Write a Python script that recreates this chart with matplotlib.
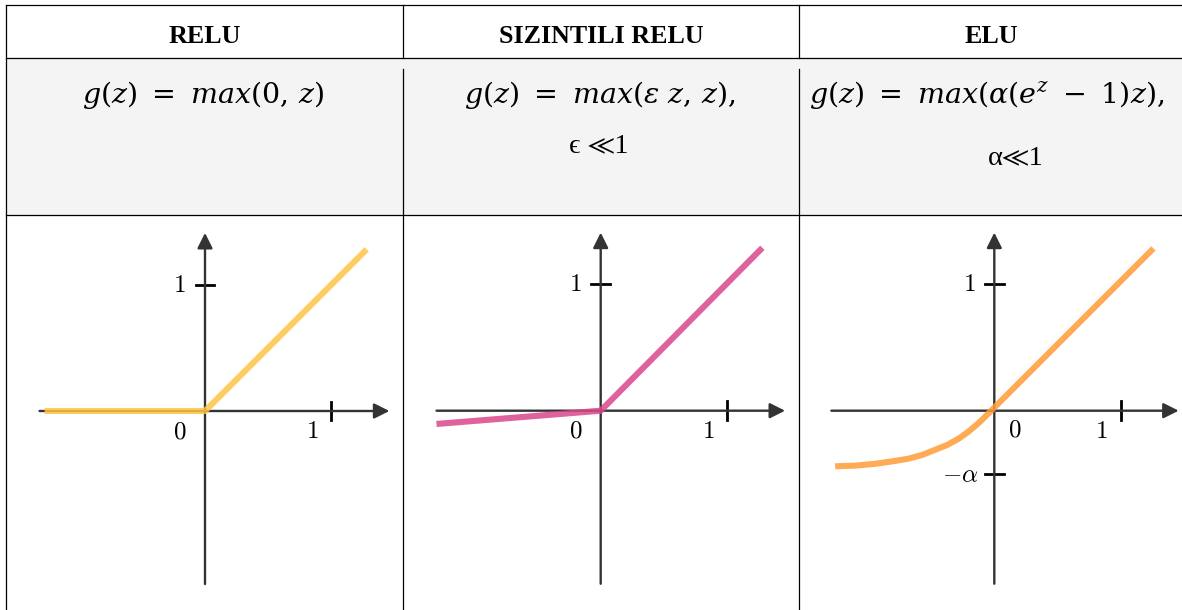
import matplotlib
matplotlib.use("Agg")
import matplotlib.pyplot as plt

# table text
headers = ["RELU", "SIZINTILI RELU", "ELU"]
formulas = [r"$g(z)\ =\ max(0,\,z)$",
            r"$g(z)\ =\ max(\epsilon\ z,\,z),$",
            r"$g(z)\ =\ max(\alpha(e^z\ -\ 1)z),$"]
conditions = ["", "ϵ ≪1", "α≪1"]

# curves
relu_z = [-1.27, 0.0, 1.28]
relu_g = [0.0, 0.0, 1.28]
leaky_z = [-1.30, 0.0, 1.28]
leaky_g = [-0.105, 0.0, 1.29]
elu_z = [-1.26, -1.10, -0.94, -0.80, -0.68, -0.57, -0.47, -0.37, -0.28, -0.21,
         -0.15, -0.10, -0.05, 0.0, 0.10, 1.26]
elu_g = [-0.44, -0.435, -0.42, -0.40, -0.38, -0.35, -0.31, -0.27, -0.22, -0.17,
         -0.12, -0.075, -0.025, 0.025, 0.125, 1.285]

curves = [(relu_z, relu_g, "#fec545"),
          (leaky_z, leaky_g, "#d9468a"),
          (elu_z, elu_g, "#ff9d38")]

W, H = 1182, 610
fig = plt.figure(figsize=(W / 100, H / 100), dpi=100)

# background axes in pixel coordinates for the table grid
bg = fig.add_axes([0, 0, 1, 1])
bg.set_xlim(0, W)
bg.set_ylim(H, 0)
bg.axis("off")

bg.add_patch(plt.Rectangle((6, 58), W - 6, 157, color="#f4f4f4", zorder=0))
for y in [5, 58, 215]:
    bg.plot([6, W], [y, y], color="black", lw=0.9)
bg.plot([6, 6], [5, H], color="black", lw=0.9)
for x in [403, 799]:
    bg.plot([x, x], [5, 58], color="black", lw=0.9)
    bg.plot([x, x], [69, H], color="black", lw=0.9)

col_x = [204.5, 601, 991]
for i in range(3):
    bg.text(col_x[i], 43, headers[i], ha="center", va="baseline",
            family="Liberation Serif", weight="bold", fontsize=18.7)

formula_x = [203, 600, 987]
for i in range(3):
    bg.text(formula_x[i], 95, formulas[i], ha="center", va="center",
            fontsize=20.5, math_fontfamily="dejavuserif")

cond_font = ["Liberation Serif", "STIXGeneral", "DejaVu Sans"]
bg.text(599, 152, conditions[1], ha="center", va="baseline",
        family=cond_font, fontsize=20.5)
bg.text(1016, 164, conditions[2], ha="center", va="baseline",
        family=cond_font, fontsize=20.5)

# plot panels
origins = [(205, 411), (600.7, 410.7), (994.3, 410.7)]
unit = 126.3
xmin, xmax, ymin, ymax = -1.5, 1.6, -1.5, 1.5
axis_col = "#333333"

for k, (ox, oy) in enumerate(origins):
    left = (ox + xmin * unit) / W
    bottom = 1 - (oy - ymin * unit) / H
    ax = fig.add_axes([left, bottom, (xmax - xmin) * unit / W,
                       (ymax - ymin) * unit / H])
    ax.set_xlim(xmin, xmax)
    ax.set_ylim(ymin, ymax)
    ax.axis("off")
    ax.patch.set_alpha(0)

    xl = [-1.31, -1.30, -1.29][k]
    ax.annotate("", xy=(1.46, 0), xytext=(xl, 0),
                arrowprops=dict(arrowstyle="-|>", color=axis_col, lw=1.7,
                                mutation_scale=23, shrinkA=0, shrinkB=0))
    ax.annotate("", xy=(0, 1.41), xytext=(0, -1.37),
                arrowprops=dict(arrowstyle="-|>", color=axis_col, lw=1.7,
                                mutation_scale=23, shrinkA=0, shrinkB=0))

    t = 0.075
    ax.plot([1, 1], [-t, t], color="black", lw=2)
    ax.plot([-t, t], [1, 1], color="black", lw=2)

    z, g, c = curves[k]
    ax.plot(z, g, color=c, lw=4.4, alpha=0.85, solid_capstyle="butt",
            solid_joinstyle="round", zorder=3)

    lab = dict(ha="center", va="center", fontsize=18, math_fontfamily="cm")
    ax.text(-0.2, 1.0, r"$1$", **lab)
    ax.text(0.85, -0.16, r"$1$", **lab)
    if k < 2:
        ax.text(-0.2, -0.16, r"$0$", **lab)
    else:
        ax.text(0.16, -0.15, r"$0$", **lab)
        ax.plot([-t, t], [-0.5, -0.5], color="black", lw=2)
        ax.text(-0.27, -0.51, r"$-\alpha$", **lab)

fig.savefig("out.png", dpi=100)
